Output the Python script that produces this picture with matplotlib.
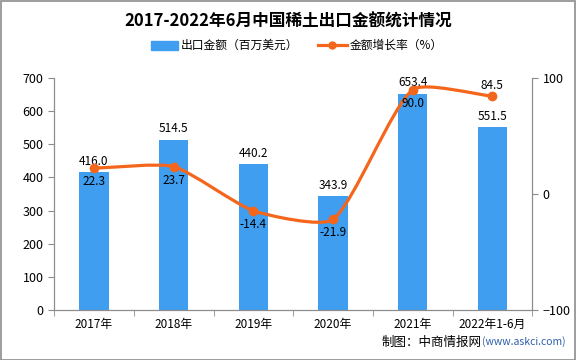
import matplotlib.pyplot as plt
import numpy as np
from matplotlib.path import Path
from matplotlib.patches import PathPatch, Rectangle

plt.rcParams['font.family'] = ['Noto Sans CJK SC', 'DejaVu Sans']

# 2017-2022年6月 中国稀土出口金额
anos = ['2017年', '2018年', '2019年', '2020年', '2021年', '2022年1-6月']
valor = [416.0, 514.5, 440.2, 343.9, 653.4, 551.5]
cresc = [22.3, 23.7, -14.4, -21.9, 90.0, 84.5]

cor_barra = '#3f9ef0'
cor_linha = '#f4661b'
cinza = '#8c8c8c'

fig = plt.figure(figsize=(5.76, 3.6), dpi=100)
ax = fig.add_axes([0.094, 0.139, 0.830, 0.644])
ax2 = ax.twinx()

x = np.arange(len(valor))
ax.bar(x, valor, width=0.37, color=cor_barra, zorder=2)
ax.set_xlim(-0.5, len(valor) - 0.5)
ax.set_ylim(0, 700)
ax.set_yticks(range(0, 701, 100))
ax.set_xticks(x)
ax.set_xticklabels(anos, fontsize=8.5)
ax.set_xticks(np.arange(-0.5, len(valor), 1), minor=True)
ax.tick_params(axis='x', which='major', length=0, pad=6)
ax.tick_params(axis='x', which='minor', length=4, color=cinza)
ax.tick_params(axis='y', length=4, color=cinza, labelsize=9)

ax2.set_ylim(-100, 100)
ax2.set_yticks([-100, 0, 100])
ax2.tick_params(axis='y', length=4, color=cinza, labelsize=9)

for a in (ax, ax2):
    a.spines['top'].set_visible(False)
    for s in ('left', 'right', 'bottom'):
        a.spines[s].set_color(cinza)

# linha suavizada: pontos de controle calculados em escala de pixels
escy = 1.16 / 79.6   # razão px/unidade do eixo y sobre px/categoria
pts = np.column_stack([x, np.array(cresc) * escy]).astype(float)
n = len(pts)
suave = 0.2
cp_antes, cp_depois = [], []
for i in range(n):
    prev = pts[max(i - 1, 0)]
    nxt = pts[min(i + 1, n - 1)]
    cur = pts[i]
    vec = nxt - prev
    lp = np.hypot(*(cur - prev))
    ln = np.hypot(*(nxt - cur))
    r = ln / (ln + lp)
    cp_antes.append(cur - vec * suave * (1 - r))
    cp_depois.append(cur + vec * suave * r)
verts = [pts[0]]
codes = [Path.MOVETO]
for i in range(n - 1):
    verts += [cp_depois[i], cp_antes[i + 1], pts[i + 1]]
    codes += [Path.CURVE4] * 3
verts = np.array(verts)
verts[:, 1] /= escy
ax2.add_patch(PathPatch(Path(verts, codes), fill=False, edgecolor=cor_linha,
                        lw=2.3, zorder=3, capstyle='round'))
ax2.plot(x, cresc, 'o', color=cor_linha, markersize=6, zorder=4)

for i, v in enumerate(valor):
    ax.annotate(f'{v:.1f}', (x[i], v), xytext=(0, 3), textcoords='offset points',
                ha='center', va='bottom', fontsize=8.5, zorder=5)
for i, c in enumerate(cresc):
    if i == len(cresc) - 1:
        ax2.annotate(f'{c:.1f}', (x[i], c), xytext=(0, 3), textcoords='offset points',
                     ha='center', va='bottom', fontsize=8.5, zorder=5)
    else:
        ax2.annotate(f'{c:.1f}', (x[i], c), xytext=(0, -5), textcoords='offset points',
                     ha='center', va='top', fontsize=8.5, zorder=5)

fig.text(0.5, 0.94, '2017-2022年6月中国稀土出口金额统计情况', ha='center', va='center',
         fontsize=12, fontweight='bold')

# legenda
fig.patches.append(Rectangle((0.262, 0.862), 0.047, 0.025, transform=fig.transFigure,
                             color=cor_barra))
fig.text(0.313, 0.874, '出口金额（百万美元）', ha='left', va='center', fontsize=8.5)
fig.lines.append(plt.Line2D([0.552, 0.602], [0.874, 0.874], transform=fig.transFigure,
                            color=cor_linha, lw=2.3))
fig.lines.append(plt.Line2D([0.577], [0.874], transform=fig.transFigure, marker='o',
                            color=cor_linha, markersize=5))
fig.text(0.607, 0.874, '金额增长率（%）', ha='left', va='center', fontsize=8.5)

fig.text(0.836, 0.05, '制图：中商情报网', ha='right', va='center', fontsize=9)
fig.text(0.836, 0.05, '(www.askci.com)', ha='left', va='center', fontsize=7.5,
         color='#2e5ea8')

fig.patches.append(Rectangle((0.001, 0.001), 0.997, 0.997, transform=fig.transFigure,
                             fill=False, edgecolor=cinza, lw=1.2))

fig.savefig('out.png', dpi=100)
